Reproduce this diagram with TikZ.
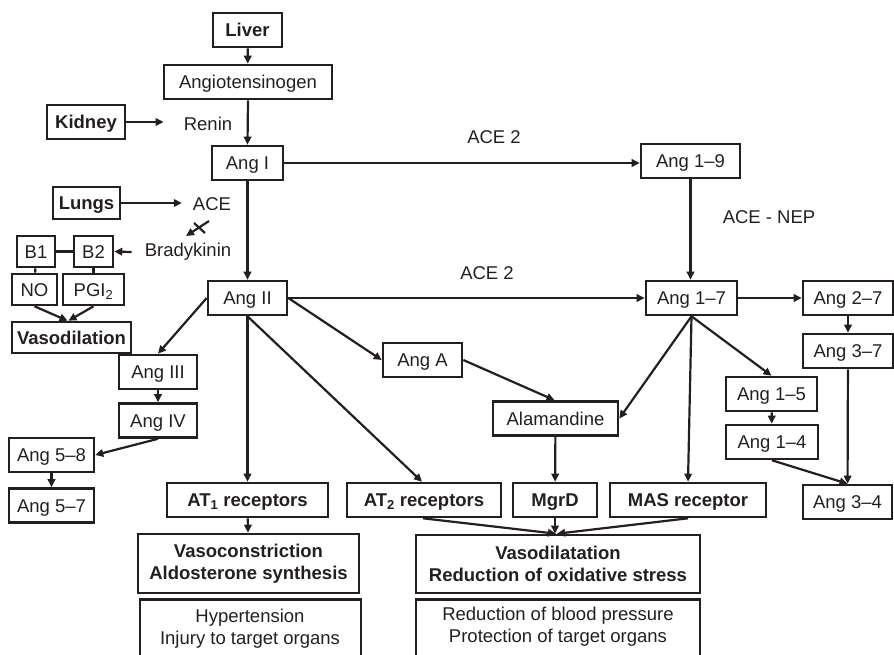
\documentclass[tikz,border=0pt]{standalone}
\usepackage{fontspec}
\setmainfont{Liberation Sans}
\usetikzlibrary{arrows.meta}
\definecolor{ink}{HTML}{231F20}
\begin{document}
\begin{tikzpicture}[x=1pt,y=-1pt,
  font=\fontsize{18.5}{22}\selectfont,
  every node/.style={text=ink},
  frame/.style={draw=ink, line width=2.6pt, inner sep=0pt, align=center},
  box/.style={frame, minimum height=34pt, text height=17pt, text depth=4pt},
  bbox/.style={box, font=\fontsize{18.5}{22}\selectfont\bfseries},
  big/.style={frame, font=\fontsize{18.5}{22}\selectfont\bfseries},
  lbl/.style={inner sep=0pt, align=center},
  arr/.style={draw=ink, line width=2.2pt, -{Triangle[length=8pt,width=7.5pt]}},
  ln/.style={draw=ink, line width=2.2pt},
]
\useasboundingbox (0,0) rectangle (894,654);

% ---------- upper chain ----------
\node[bbox, minimum width=69pt]  (liver)  at (247.5,30)  {Liver};
\node[box,  minimum width=168pt] (angio)  at (248,82)    {Angiotensinogen};
\node[bbox, minimum width=78pt]  (kidney) at (86,122)    {Kidney};
\node[lbl]                       (renin)  at (208,124)   {Renin};
\node[box,  minimum width=71pt]  (angI)   at (247.5,163) {Ang I};
\node[box,  minimum width=99pt]  (a19)    at (690.5,161) {Ang 1--9};
\node[lbl]                       (ace2a)  at (494,137)   {ACE 2};
\node[lbl]                       (acenep) at (769,217)   {ACE - NEP};

% ---------- bradykinin branch ----------
\node[bbox, minimum width=67pt, minimum height=32pt] (lungs) at (86.5,203) {Lungs};
\node[lbl]                       (ace)    at (212,204)   {ACE};
\node[box, minimum width=38pt, minimum height=31pt] (b1)  at (36,251.5)   {B1};
\node[box, minimum width=39pt, minimum height=31pt] (b2)  at (93.5,251.5) {B2};
\node[lbl]                       (brady)  at (188,252)   {Bradykinin};
\node[box, minimum width=45pt, minimum height=31pt] (no)  at (34.5,289.5) {NO};
\node[box, minimum width=61pt, minimum height=31pt] (pgi) at (93.5,289.5) {PGI\textsubscript{2}};
\node[bbox, minimum width=119pt, minimum height=31pt] (vdil) at (71.5,337.5) {Vasodilation};

% ---------- Ang II level ----------
\node[box, minimum width=79pt] (angII) at (247.5,298) {Ang II};
\node[lbl]                     (ace2b) at (487,273)   {ACE 2};
\node[box, minimum width=91pt] (a17)   at (691.5,298) {Ang 1--7};
\node[box, minimum width=90pt] (a27)   at (848,298)   {Ang 2--7};
\node[box, minimum width=90pt] (a37)   at (848,351)   {Ang 3--7};
\node[box, minimum width=79pt] (angA)  at (422.5,360) {Ang A};
\node[box, minimum width=78pt] (angIII) at (158,372)  {Ang III};
\node[box, minimum width=78pt] (angIV)  at (158,420.5) {Ang IV};
\node[box, minimum width=91pt] (a15)   at (771.5,394) {Ang 1--5};
\node[box, minimum width=92pt] (a14)   at (772,442)   {Ang 1--4};
\node[box, minimum width=125pt] (alam) at (555.5,418.5) {Alamandine};
\node[box, minimum width=85pt] (a58)   at (51.5,455)  {Ang 5--8};
\node[box, minimum width=85pt] (a57)   at (51.5,505.5) {Ang 5--7};
\node[box, minimum width=89pt] (a34)   at (847.5,502) {Ang 3--4};

% ---------- receptors ----------
\node[bbox, minimum width=161pt] (at1)  at (247.5,500) {AT\textsubscript{1} receptors};
\node[bbox, minimum width=154pt] (at2)  at (424,500)   {AT\textsubscript{2} receptors};
\node[bbox, minimum width=84pt]  (mgrd) at (555,500)   {MgrD};
\node[bbox, minimum width=156pt] (mas)  at (688,500)   {MAS receptor};

% ---------- effects ----------
\node[big, minimum width=221pt, minimum height=59pt] (vcon) at (248.5,563.5)
  {Vasoconstriction\\Aldosterone synthesis};
\node[big, minimum width=284pt, minimum height=58pt] (vdlt) at (558,564)
  {Vasodilatation\\Reduction of oxidative stress};
\node[lbl] (hyp) at (250,628.5) {Hypertension\\Injury to target organs};
\node[lbl] (red) at (558,627)   {Reduction of blood pressure\\Protection of target organs};
% outcome boxes run off the lower edge
\draw[draw=ink, line width=2.6pt] (140,656) -- (140,599.5) -- (361,599.5) -- (361,656);
\draw[draw=ink, line width=2.6pt] (416,656) -- (416,599.5) -- (700,599.5) -- (700,656);

% ---------- connectors ----------
\draw[arr] (liver) -- (angio);
\draw[arr] (angio.south) -- (angI.north);
\draw[arr] (kidney.east) -- ([xshift=-20pt]renin.west |- kidney.east);
\draw[arr] (angI.east) -- (a19.west |- angI.east);
\draw[arr] (angI) -- (angII);
\draw[arr] (a19.south) -- (a19.south |- a17.north);

\draw[arr] (lungs.east) -- ([xshift=-11pt]ace.west |- lungs.east);
\coordinate (blk1) at (209,221);
\coordinate (blk2) at (186,236);
\coordinate (crs1) at (194,223);
\coordinate (crs2) at (205,233);
\draw[arr] (blk1) -- (blk2);
\draw[ln] (crs1) -- (crs2);
\draw[arr] ([xshift=-13pt]brady.west) -- (b2.east);
\draw[ln] (b1) -- (b2);
\draw[ln] (b1) -- (no);
\draw[ln] (b2) -- (pgi);
\draw[arr] (no.south) -- ([xshift=-4pt]vdil.north);
\draw[arr] (pgi.south) -- ([xshift=-3pt]vdil.north);

\draw[arr] (angII.east) -- (a17.west |- angII.east);
\draw[arr] (a17) -- (a27);
\draw[arr] (a27) -- (a37);
\draw[arr] (a37) -- (a34);
\draw[arr] (angII.east) -- (angA.west);
\draw[arr] (angII.west) -- (angIII.north);
\draw[arr] (angIII) -- (angIV);
\draw[arr] (angIV.south) -- (a58.east);
\draw[arr] (a58) -- (a57);
\draw[arr] (angII.south) -- (at1.north);
\draw[arr] (at1) -- (vcon);
\draw[arr] (angII.south) -- ([xshift=-2pt]at2.north);
\draw[arr] (angA.east) -- ([xshift=-1pt]alam.north);
\draw[arr] (a17.south) -- (alam.east);
\draw[arr] (a17.south) -- (mas.north);
\draw[arr] (a17.south) -- (a15.north);
\draw[arr] (a15) -- (a14);
\draw[arr] (a14.south) -- (a34.north);
\draw[arr] (alam) -- (mgrd);
\draw[arr] ([xshift=-1pt]at2.south) -- ([xshift=-2pt]vdlt.north);
\draw[arr] (mgrd.south) -- (mgrd.south |- vdlt.north);
\draw[arr] (mas.south) -- ([xshift=-1pt]vdlt.north);
\end{tikzpicture}
\end{document}
